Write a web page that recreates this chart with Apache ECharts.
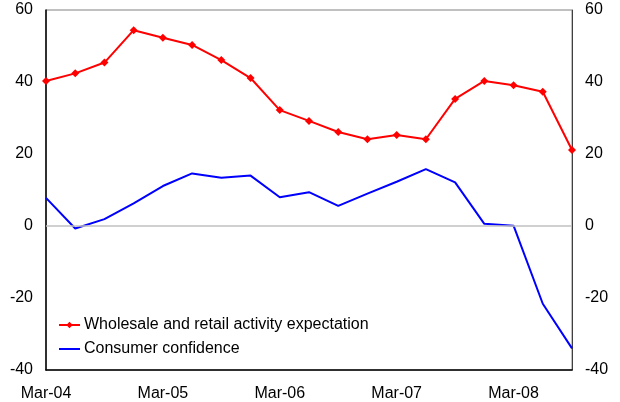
<!DOCTYPE html>
<html>
<head>
<meta charset="utf-8">
<script src="https://cdn.jsdelivr.net/npm/echarts@6/dist/echarts.min.js"></script>
<style>
html, body { margin: 0; padding: 0; background: #fff; }
#main { width: 620px; height: 402px; }
</style>
</head>
<body>
<div id="main"></div>
<script>
// 季度标签
var quarters = ['Mar-04', 'Jun-04', 'Sep-04', 'Dec-04', 'Mar-05', 'Jun-05', 'Sep-05', 'Dec-05',
	'Mar-06', 'Jun-06', 'Sep-06', 'Dec-06', 'Mar-07', 'Jun-07', 'Sep-07', 'Dec-07',
	'Mar-08', 'Jun-08', 'Sep-08'];
// 批发零售活动预期
var wholesaleRetail = [40.3, 42.4, 45.4, 54.4, 52.3, 50.3, 46.1, 41.1, 32.2, 29.2,
	26.1, 24.1, 25.3, 24.1, 35.3, 40.3, 39.1, 37.3, 21.1];
// 消费者信心
var consumerConfidence = [7.8, -0.7, 1.9, 6.3, 11.1, 14.6, 13.4, 14.0, 8.0, 9.4,
	5.6, 9.0, 12.3, 15.8, 12.1, 0.6, 0.1, -21.6, -34.0];
// 坐标轴刻度
var yMin = -40, yMax = 60, yStep = 20;

var chart = echarts.init(document.getElementById('main'));
var font = 'Liberation Sans, Arial, sans-serif';

var option = {
	animation: false,
	textStyle: { fontFamily: font },
	grid: {
		left: 46, right: 48, top: 10, bottom: 32,
		show: true,
		borderColor: '#808080',
		borderWidth: 1
	},
	legend: {
		orient: 'vertical',
		left: 53,
		top: 312,
		itemWidth: 21,
		itemHeight: 8,
		itemGap: 8,
		textStyle: { fontSize: 16, color: '#000', fontFamily: font, padding: [0, 0, 0, -1] },
		data: [
			{ name: 'Wholesale and retail activity expectation' },
			{ name: 'Consumer confidence', icon: 'path://M0,3L21,3L21,5L0,5Z' }
		]
	},
	xAxis: {
		type: 'category',
		data: quarters,
		boundaryGap: false,
		axisLine: { show: true, onZero: false, lineStyle: { color: '#000', width: 1.5 } },
		axisTick: { show: false },
		axisLabel: { interval: 3, color: '#000', fontSize: 16, margin: 16, fontFamily: font },
		splitLine: { show: false }
	},
	yAxis: [{
		type: 'value',
		min: yMin, max: yMax, interval: yStep,
		position: 'left',
		axisLine: { show: true, lineStyle: { color: '#000', width: 1.5 } },
		axisTick: { show: false },
		axisLabel: { color: '#000', fontSize: 16, margin: 13, fontFamily: font },
		splitLine: { show: false }
	}, {
		type: 'value',
		min: yMin, max: yMax, interval: yStep,
		position: 'right',
		axisLine: { show: true, lineStyle: { color: '#404040', width: 1 } },
		axisTick: { show: false },
		axisLabel: { color: '#000', fontSize: 16, margin: 13, fontFamily: font },
		splitLine: { show: false }
	}],
	series: [{
		name: 'Wholesale and retail activity expectation',
		type: 'line',
		data: wholesaleRetail,
		color: '#ff0000',
		symbol: 'diamond',
		symbolSize: 8,
		showSymbol: true,
		lineStyle: { width: 2 },
		itemStyle: { color: '#ff0000' },
		z: 3
	}, {
		name: 'Consumer confidence',
		type: 'line',
		data: consumerConfidence,
		color: '#0000ff',
		symbol: 'none',
		lineStyle: { width: 2 },
		markLine: {
			silent: true,
			symbol: 'none',
			label: { show: false },
			lineStyle: { color: '#c0c0c0', type: 'solid', width: 1.5 },
			data: [{ yAxis: 0 }]
		},
		z: 2
	}]
};
chart.setOption(option);
</script>
</body>
</html>
